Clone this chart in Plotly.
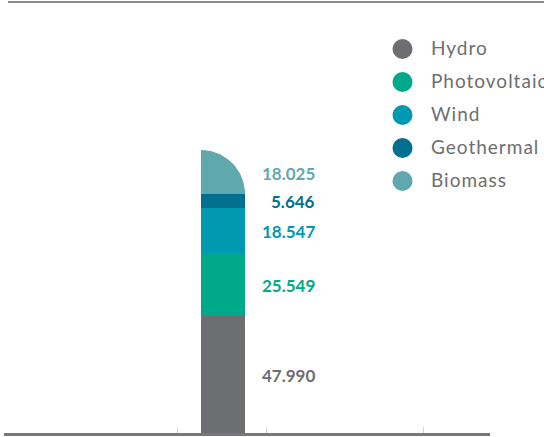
import numpy as np
import plotly.graph_objects as go

# Installed capacity by renewable source (stacked, bottom to top)
sources = ["Hydro", "Photovoltaic", "Wind", "Geothermal", "Biomass"]
values = [47.990, 25.549, 18.547, 5.646, 18.025]
colors = ["#6d6e72", "#00a98a", "#0099b1", "#006f90", "#5fa8ad"]
label_colors = ["#6d6e71", "#00a98a", "#0099b1", "#006f90", "#5fa8ad"]

W, H = 544, 437
ML, MR, MT, MB = 4, 54, 0, 4
plot_w = W - ML - MR
plot_h = H - MT - MB
px_per_unit = 2.445
y_max = plot_h / px_per_unit

bar_w = 1.0
bar_px = 44.0
bar_center_px = 223.0
x_lo = -(bar_center_px - ML) / bar_px
x_hi = (ML + plot_w - bar_center_px) / bar_px
tick_px = [177, 266, 423]
tick_vals = [(p - bar_center_px) / bar_px for p in tick_px]
label_x = (317 - bar_center_px) / bar_px

fig = go.Figure()

# lower segments as stacked bars
for name, v, c in zip(sources[:-1], values[:-1], colors[:-1]):
    fig.add_trace(go.Bar(x=[0], y=[v], width=bar_w, name=name,
                         marker=dict(color=c, line=dict(width=0)),
                         showlegend=False, hoverinfo="skip"))

# top segment with a quarter-round cap
base = sum(values[:-1])
h = values[-1]
theta = np.linspace(np.pi / 2, 0, 80)
x0 = -bar_w / 2
xs = [x0] + list(x0 + bar_w * np.cos(theta)) + [x0]
ys = [base] + list(base + h * np.sin(theta)) + [base]
fig.add_trace(go.Scatter(x=xs, y=ys, mode="lines", fill="toself",
                         fillcolor=colors[-1], line=dict(width=0, color=colors[-1]),
                         showlegend=False, hoverinfo="skip"))

# value labels at segment midpoints
cum = np.cumsum([0] + values)
for i, (v, lc) in enumerate(zip(values, label_colors)):
    mid = (cum[i] + cum[i + 1]) / 2
    fig.add_annotation(x=label_x, y=mid, yshift=-1, text=f"{v:.3f}", showarrow=False,
                       xanchor="right", yanchor="middle",
                       font=dict(family="Lato", size=17, color=lc, weight=700))

# legend drawn on a pixel-scaled overlay axis
leg_y = [49 + 33 * i for i in range(len(sources))]
fig.add_trace(go.Scatter(x=[402.5 - ML] * len(sources), y=leg_y, mode="markers",
                         marker=dict(size=20, color=colors, line=dict(width=0)),
                         xaxis="x2", yaxis="y2", cliponaxis=False,
                         showlegend=False, hoverinfo="skip"))
leg_text = [f'<span style="letter-spacing:1px">{s}</span>' for s in sources]
fig.add_trace(go.Scatter(x=[431 - ML] * len(sources), y=[v + 1 for v in leg_y],
                         mode="text", text=leg_text, textposition="middle right",
                         textfont=dict(family="Lato", size=19, color="#6d6e71"),
                         xaxis="x2", yaxis="y2", cliponaxis=False,
                         showlegend=False, hoverinfo="skip"))

# thin rule across the top
fig.add_shape(type="line", xref="paper", yref="paper",
              x0=(8 - ML) / plot_w, x1=(W + 2 - ML) / plot_w,
              y0=(plot_h - 2) / plot_h, y1=(plot_h - 2) / plot_h,
              line=dict(color="#8a8a8a", width=2))

fig.update_layout(
    width=W, height=H, barmode="stack",
    margin=dict(l=ML, r=MR, t=MT, b=MB, pad=0),
    paper_bgcolor="white", plot_bgcolor="white",
    showlegend=False,
    xaxis=dict(range=[x_lo, x_hi], showline=True, linecolor="#77787b", linewidth=3,
               ticks="inside", tickvals=tick_vals, ticklen=6, tickwidth=1,
               tickcolor="#d4d4d4", showticklabels=False, showgrid=False,
               zeroline=False, fixedrange=True),
    yaxis=dict(range=[0, y_max], visible=False, fixedrange=True),
    xaxis2=dict(domain=[0, 1], range=[0, plot_w], overlaying="x", anchor="y2",
                visible=False, fixedrange=True),
    yaxis2=dict(range=[plot_h, 0], overlaying="y", anchor="x2",
                visible=False, fixedrange=True),
)

fig.write_html("out.html", config={"displayModeBar": False})
